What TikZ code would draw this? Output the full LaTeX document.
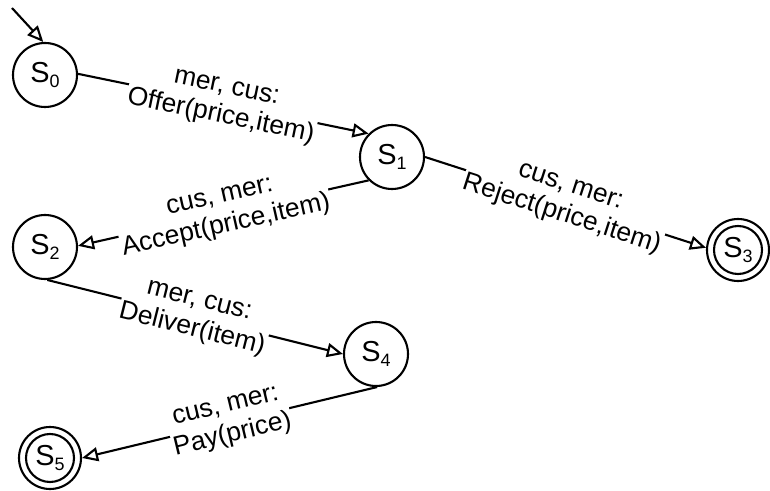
\documentclass[tikz,border=0pt]{standalone}
\usepackage{fontspec}
\setmainfont{Liberation Sans}
\usetikzlibrary{arrows.meta}
\newcommand\stname[1]{S\raisebox{-5bp}{\fontsize{18}{18}\selectfont #1}}
\begin{document}
\begin{tikzpicture}[x=1bp,y=-1bp,
  lw/.style={line width=2.1bp},
  state/.style={circle, draw, lw, minimum size=64bp, inner sep=0pt, font=\fontsize{29}{29}\selectfont},
  final/.style={minimum size=62bp, path picture={\draw[lw] (path picture bounding box.center) circle (24bp);}},
  conn/.style={lw, -{Triangle[open,length=16bp,width=14bp]}},
  lbl/.style={midway, sloped, fill=white, inner sep=1bp, align=center, font=\fontsize{26.5}{30}\selectfont},
]
\useasboundingbox (0,0) rectangle (770,491);
\node[state] (s0) at (45,75) {\stname{0}};
\node[state] (s1) at (392,157) {\stname{1}};
\node[state] (s2) at (45,247) {\stname{2}};
\node[state,final] (s3) at (738,250) {\stname{3}};
\node[state] (s4) at (376,354) {\stname{4}};
\node[state,final] (s5) at (50,458) {\stname{5}};
\coordinate (init) at (12,8);
\draw[conn] (init) -- (s0.93);
\draw[conn] (s0.2) -- node[lbl]{mer, cus:\\Offer(price,item)} (s1.135);
\draw[conn] (s1.225) -- node[lbl]{cus, mer:\\Accept(price,item)} (s2.2);
\draw[conn] (s1.0) -- node[lbl]{cus, mer:\\Reject(price,item)} (s3.176);
\draw[conn] (s2.-86) -- node[lbl]{mer, cus:\\Deliver(item)} (s4.180);
\draw[conn] (s4.-88) -- node[lbl]{cus, mer:\\Pay(price)} (s5.0);
\end{tikzpicture}
\end{document}
